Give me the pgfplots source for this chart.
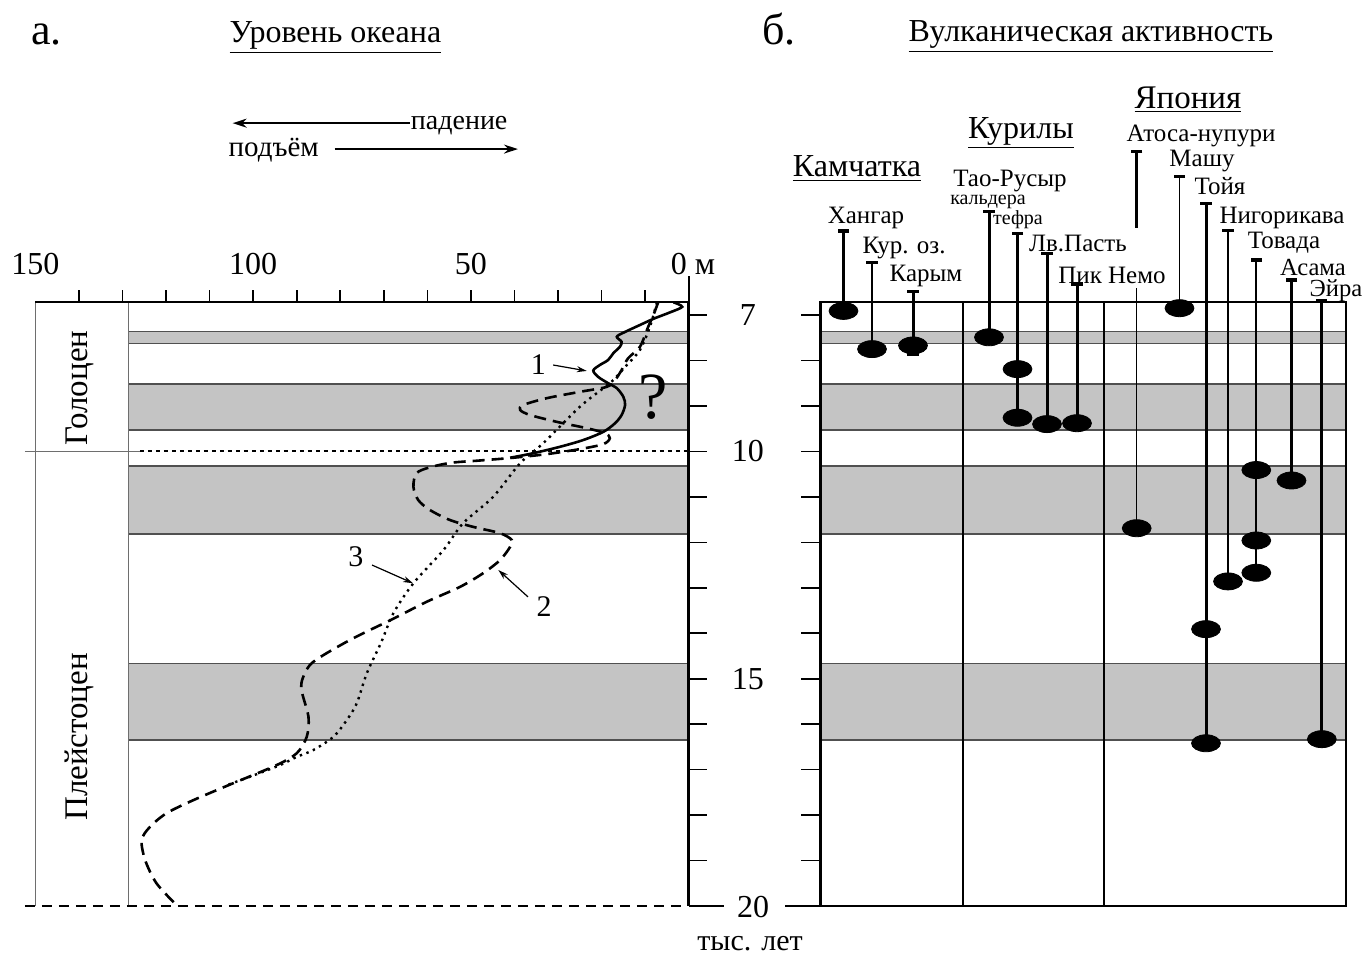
\documentclass[border=0pt]{standalone}
\usepackage{pgfplots}
\pgfplotsset{compat=1.18}
\usepackage{fontspec}
\IfFontExistsTF{LiberationSerif-Regular.ttf}{\setmainfont{LiberationSerif-Regular.ttf}}{\setmainfont{Liberation Serif}}
\usetikzlibrary{arrows.meta}
\definecolor{band}{RGB}{196,196,196}
\definecolor{bandline}{RGB}{80,80,80}
\definecolor{frame}{RGB}{110,110,110}
\newcommand{\fs}[1]{\fontsize{#1}{#1}\selectfont}
\begin{document}
\begin{tikzpicture}
\path (0,0) rectangle (683.5pt,477pt);
% ================= LEFT PANEL =================
\begin{axis}[at={(17.7pt,24pt)}, anchor=south west, scale only axis,
  width=326.65pt, height=302pt, xmin=0, xmax=150, ymin=6.714, ymax=20,
  x dir=reverse, y dir=reverse, hide axis, clip=false]
% bands
\addplot[fill=band, draw=bandline, line width=0.7pt] coordinates {(128.6,7.36) (0,7.36) (0,7.63) (128.6,7.63)} -- cycle;
\addplot[fill=band, draw=bandline, line width=0.7pt] coordinates {(128.6,8.52) (0,8.52) (0,9.53) (128.6,9.53)} -- cycle;
\addplot[fill=band, draw=bandline, line width=0.7pt] coordinates {(128.6,10.32) (0,10.32) (0,11.82) (128.6,11.82)} -- cycle;
\addplot[fill=band, draw=bandline, line width=0.7pt] coordinates {(128.6,14.66) (0,14.66) (0,16.35) (128.6,16.35)} -- cycle;
% frame
\draw[frame, line width=0.8pt] (axis cs:150,6.714) -- (axis cs:150,20);
\draw[frame, line width=0.8pt] (axis cs:128.6,6.714) -- (axis cs:128.6,20);
\draw[black, line width=1pt] (axis cs:150,6.714) -- (axis cs:0,6.714);
\draw[black, line width=1.2pt] (axis cs:0,6.714) -- (axis cs:0,20);
\draw[black, line width=1.1pt, dash pattern=on 5pt off 3.5pt] (axis cs:152.4,20) -- (axis cs:1.5,20);
\draw[frame, line width=0.8pt] (axis cs:152.4,10) -- (axis cs:126,10);
\draw[black, line width=0.9pt, dash pattern=on 2pt off 2pt] (axis cs:126,10) -- (axis cs:0,10);
% ticks
\pgfplotsinvokeforeach{10,20,30,40,50,60,70,80,90,100,110,120,130,140}{
  \draw[line width=0.8pt] (axis cs:#1,6.714) -- ++(0pt,6pt);}
\draw[line width=1pt] (axis cs:0,6.714) -- ++(0pt,13pt);
\pgfplotsinvokeforeach{7,8,9,10,11,12,13,14,15,16,17,18,19}{
  \draw[line width=0.8pt] (axis cs:0,#1) -- ++(9pt,0pt);}
\draw[line width=0.8pt] (axis cs:0,20) -- ++(17.5pt,0pt);
% tick labels
\node[font=\fs{16}] at (axis cs:150,5.88) {150};
\node[font=\fs{16}] at (axis cs:100,5.88) {100};
\node[font=\fs{16}] at (axis cs:50,5.88) {50};
\node[font=\fs{16}] at (axis cs:-1,5.88) {0 м};
\node[font=\fs{16}] at (axis cs:-13.6,7) {7};
\node[font=\fs{16}] at (axis cs:-13.6,10) {10};
\node[font=\fs{16}] at (axis cs:-13.6,15) {15};
\node[font=\fs{16}, anchor=base] at (axis cs:-14.8,20.26) {20};
\node[font=\fs{15}, anchor=base] at (axis cs:-14.1,20.97) {тыс. лет};
% epoch labels
\node[font=\fs{16.5}, rotate=90] at (axis cs:139.8,8.61) {Голоцен};
\node[font=\fs{16.5}, rotate=90] at (axis cs:139.8,16.28) {Плейстоцен};
% titles
\node[font=\fs{22}, anchor=base] at (axis cs:147.5,1.06) {а.};
\node[font=\fs{16}, anchor=base] at (axis cs:81.1,1.01) {\underline{Уровень океана}};
% direction arrows
\draw[-{Stealth[length=7pt,width=4.5pt]}, line width=1pt] (axis cs:64,2.78) -- (axis cs:104.7,2.78);
\node[font=\fs{14}, anchor=base] at (axis cs:52.7,2.93) {падение};
\draw[-{Stealth[length=7pt,width=4.5pt]}, line width=1pt] (axis cs:81.3,3.35) -- (axis cs:39.2,3.35);
\node[font=\fs{14.5}, anchor=base] at (axis cs:95.3,3.52) {подъём};
% curve 1 (solid)
\addplot[black, line width=1.3pt, smooth, tension=0.5] coordinates {
 (3.5,6.72) (1.5,6.82) (4.5,6.95) (8,7.08) (11.2,7.22) (15.0,7.39) (16.5,7.48)
 (15.4,7.59) (15.8,7.70) (17.3,7.84) (18.5,7.99) (20.4,8.10) (21.9,8.22)
 (20.8,8.36) (18.5,8.50) (16.5,8.61) (15.0,8.80) (14.6,8.98) (15.4,9.20)
 (16.9,9.38) (19.6,9.57) (24.2,9.75) (29.6,9.90) (35.7,10.04) (41,10.14)};
% curve 2 (dashed)
\addplot[black, line width=1.3pt, dash pattern=on 6pt off 3.5pt, smooth, tension=0.5] coordinates {
 (7.0,6.72) (8.1,7.0) (9.3,7.26) (11.2,7.70) (13.9,7.95) (15.4,8.21) (16.9,8.43)
 (18.8,8.58) (25,8.69) (32.6,8.83) (38,8.98) (38.7,9.09) (36.4,9.2) (30.3,9.35)
 (23.4,9.49) (19.2,9.6) (18.1,9.71) (19.6,9.84) (25,9.95) (32.6,10.06) (40.3,10.14)
 (47.9,10.2) (54.5,10.25) (59.4,10.35) (62.5,10.48) (63.2,10.78) (62.1,11.07)
 (59.4,11.29) (54.8,11.51) (49.5,11.66) (43.3,11.8) (40.6,11.95) (41.0,12.1)
 (43.3,12.39) (47.2,12.68) (52.5,12.98) (60.2,13.31) (67.8,13.68) (77.8,14.15)
 (86.2,14.63) (88.5,14.96) (88.9,15.25) (87.3,15.84) (87.7,16.28) (90.0,16.64)
 (94.6,16.9) (104.6,17.3) (113.7,17.67) (119.9,17.96) (123.7,18.26) (125.6,18.55)
 (124.8,18.99) (122.2,19.5) (117.6,19.98)};
% curve 3 (dotted)
\addplot[black, line width=1.2pt, dash pattern=on 1.2pt off 2.3pt, smooth, tension=0.5] coordinates {
 (7.3,6.72) (8.9,7.26) (11.2,7.77) (14.2,8.10) (17.3,8.43) (19.6,8.61) (25,9.02)
 (33.4,9.82) (38.7,10.26) (44.9,11.0) (51.8,11.58) (56.3,12.17) (63.2,12.9)
 (67.8,13.56) (70.6,14.2) (73.9,14.88) (76.2,15.54) (78.5,15.91) (81.6,16.28)
 (86.2,16.57) (90,16.72) (93.8,16.9) (100,17.13) (106,17.34)};
% annotations
\node[font=\fs{15}] at (axis cs:34.5,8.1) {1};
\draw[-{Stealth[length=5pt,width=3pt]}, line width=0.6pt] (axis cs:31.1,8.10) -- (axis cs:23.4,8.23);
\node[font=\fs{15}] at (axis cs:76.4,12.32) {3};
\draw[-{Stealth[length=5pt,width=3pt]}, line width=0.6pt] (axis cs:72.7,12.5) -- (axis cs:63.3,12.9);
\node[font=\fs{15}] at (axis cs:33.2,13.42) {2};
\draw[-{Stealth[length=5pt,width=3pt]}, line width=0.6pt] (axis cs:36.9,13.2) -- (axis cs:43.7,12.61);
\node[font=\fs{33}] at (axis cs:8.2,8.8) {?};
\end{axis}
% ================= RIGHT PANEL =================
\begin{axis}[at={(410.3pt,24pt)}, anchor=south west, scale only axis,
  width=262.7pt, height=302pt, xmin=820.6, xmax=1346, ymin=6.714, ymax=20,
  y dir=reverse, hide axis, clip=false]
\addplot[fill=band, draw=bandline, line width=0.7pt] coordinates {(820.6,7.36) (1346,7.36) (1346,7.63) (820.6,7.63)} -- cycle;
\addplot[fill=band, draw=bandline, line width=0.7pt] coordinates {(820.6,8.52) (1346,8.52) (1346,9.53) (820.6,9.53)} -- cycle;
\addplot[fill=band, draw=bandline, line width=0.7pt] coordinates {(820.6,10.32) (1346,10.32) (1346,11.82) (820.6,11.82)} -- cycle;
\addplot[fill=band, draw=bandline, line width=0.7pt] coordinates {(820.6,14.66) (1346,14.66) (1346,16.35) (820.6,16.35)} -- cycle;
\draw[black, line width=1.2pt] (axis cs:820.6,6.714) rectangle (axis cs:1346,20);
\draw[black, line width=1.1pt] (axis cs:963,6.714) -- (axis cs:963,20);
\draw[black, line width=1.1pt] (axis cs:1104,6.714) -- (axis cs:1104,20);
\pgfplotsinvokeforeach{7,8,9,10,11,12,13,14,15,16,17,18,19}{
  \draw[line width=0.8pt] (axis cs:820.6,#1) -- ++(-10pt,0pt);}
\draw[line width=0.8pt] (axis cs:820.6,20) -- ++(-17.8pt,0pt);
% stems thick
\addplot[black, line width=1.5pt] coordinates {(843.5,5.15) (843.5,6.91)};
\addplot[black, line width=1.5pt] coordinates {(913,6.49) (913,7.86)};
\addplot[black, line width=1.5pt] coordinates {(989,4.73) (989,7.49)};
\addplot[black, line width=1.5pt] coordinates {(1017.5,5.2) (1017.5,9.26)};
\addplot[black, line width=1.5pt] coordinates {(1047,5.64) (1047,9.40)};
\addplot[black, line width=1.5pt] coordinates {(1077,6.32) (1077,9.38)};
\addplot[black, line width=1.5pt] coordinates {(1136.7,3.41) (1136.7,5.09)};
\addplot[black, line width=1.5pt] coordinates {(1206,4.54) (1206,16.42)};
\addplot[black, line width=1.2pt] coordinates {(1228,5.14) (1228,12.86)};
\addplot[black, line width=1.5pt] coordinates {(1291.5,6.23) (1291.5,10.64)};
\addplot[black, line width=1.5pt] coordinates {(1321.8,6.69) (1321.8,16.33)};
% stems thin
\addplot[black, line width=0.7pt] coordinates {(872,5.85) (872,7.75)};
\addplot[black, line width=0.7pt] coordinates {(1136.7,6.41) (1136.7,11.69)};
\addplot[black, line width=0.7pt] coordinates {(1179.5,3.96) (1179.5,6.85)};
\addplot[black, line width=0.9pt] coordinates {(1256.3,5.79) (1256.3,12.67)};
% caps
\addplot[only marks, mark=-, mark size=2.8pt, mark options={line width=1.6pt, black}] coordinates {
 (843.5,5.15) (872,5.85) (913,6.49) (913,7.86) (989,4.73) (1017.5,5.2) (1047,5.64)
 (1077,6.32) (1136.7,3.41) (1179.5,3.96) (1206,4.54) (1228,5.14) (1256.3,5.79)
 (1291.5,6.23) (1321.8,6.69)};
% eruptions
\addplot[only marks, mark=*, mark size=4.25pt, mark options={xscale=1.7, fill=black, draw=black}] coordinates {
 (843.5,6.91) (872,7.75) (913,7.67) (989,7.49) (1017.5,8.19) (1017.5,9.26)
 (1047,9.40) (1077,9.38) (1136.7,11.69) (1179.5,6.85) (1206,13.91) (1206,16.42)
 (1228,12.86) (1256.3,10.41) (1256.3,11.96) (1256.3,12.67) (1291.5,10.64) (1321.8,16.33)};
% group headings
\node[font=\fs{16}, anchor=base] at (axis cs:857,3.96) {\underline{Камчатка}};
\node[font=\fs{16}, anchor=base] at (axis cs:1021,3.11) {\underline{Курилы}};
\node[font=\fs{16.5}, anchor=base] at (axis cs:1188,2.45) {\underline{Япония}};
% volcano labels
\node[font=\fs{12.5}, anchor=base] at (axis cs:866,4.98) {Хангар};
\node[font=\fs{12.5}, anchor=base] at (axis cs:904,5.64) {Кур. оз.};
\node[font=\fs{12.5}, anchor=base] at (axis cs:926,6.27) {Карым};
\node[font=\fs{12.5}, anchor=base] at (axis cs:1010,4.18) {Тао-Русыр};
\node[font=\fs{10}, anchor=base] at (axis cs:988,4.58) {кальдера};
\node[font=\fs{10}, anchor=base] at (axis cs:1018,5.02) {тефра};
\node[font=\fs{12.5}, anchor=base] at (axis cs:1078,5.61) {Лв.Пасть};
\node[font=\fs{12.5}, anchor=base] at (axis cs:1112,6.30) {Пик Немо};
\node[font=\fs{12.5}, anchor=base] at (axis cs:1201,3.19) {Атоса-нупури};
\node[font=\fs{12.5}, anchor=base] at (axis cs:1202,3.74) {Машу};
\node[font=\fs{12.5}, anchor=base] at (axis cs:1220,4.36) {Тойя};
\node[font=\fs{12.5}, anchor=base] at (axis cs:1282,4.98) {Нигорикава};
\node[font=\fs{12.5}, anchor=base] at (axis cs:1284,5.53) {Товада};
\node[font=\fs{12.3}, anchor=base] at (axis cs:1313,6.12) {Асама};
\node[font=\fs{12.3}, anchor=base] at (axis cs:1336,6.60) {Эйра};
% title
\node[font=\fs{22}, anchor=base] at (axis cs:779,1.06) {б.};
\node[font=\fs{16}, anchor=base] at (axis cs:1091,0.99) {\underline{Вулканическая активность}};
\end{axis}
\pgfresetboundingbox
\path (0,0) rectangle (683.5pt,477pt);
\end{tikzpicture}
\end{document}
